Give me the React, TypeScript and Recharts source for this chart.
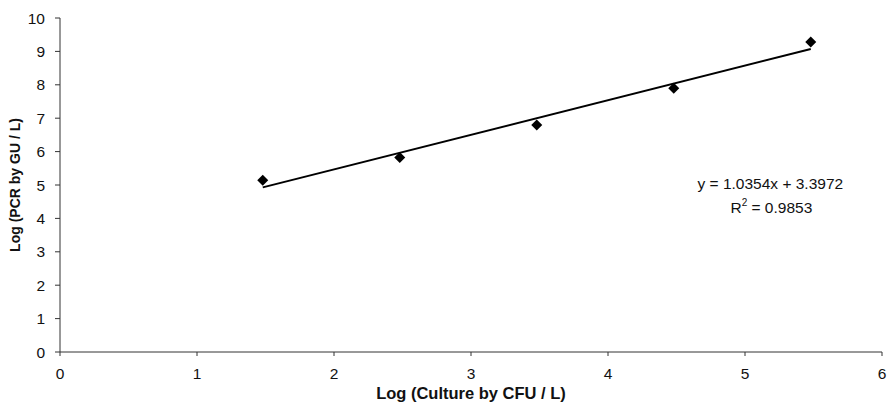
import {
  ComposedChart,
  Scatter,
  XAxis,
  YAxis,
  ReferenceDot,
} from "recharts";

// Log (Culture by CFU / L)
const cultureLog = [1.48, 2.48, 3.48, 4.48, 5.48];
// Log (PCR by GU / L)
const pcrLog = [5.14, 5.82, 6.8, 7.9, 9.28];

const xTicks = [0, 1, 2, 3, 4, 5, 6];
const yTicks = [0, 1, 2, 3, 4, 5, 6, 7, 8, 9, 10];

// Excel-style linear trendline
const slope = 1.0354;
const intercept = 3.3972;
const rSquared = 0.9853;

const points = cultureLog.map((x, i) => ({ x, y: pcrLog[i] }));
const trendX = [cultureLog[0], cultureLog[cultureLog.length - 1]];
const trend = trendX.map((x) => ({ x, y: slope * x + intercept }));

const font = "'Liberation Sans', Arial, sans-serif";

const Diamond = (props: any) => {
  const { cx, cy } = props;
  const r = 5.5;
  return (
    <polygon
      points={`${cx},${cy - r} ${cx + r},${cy} ${cx},${cy + r} ${cx - r},${cy}`}
      fill="#000"
    />
  );
};

const EquationLabel = (props: any) => {
  const { viewBox } = props;
  const x = viewBox.x;
  const y = viewBox.y;
  return (
    <text x={x} y={y} fontFamily={font} fontSize={15.5} fill="#111" textAnchor="middle">
      <tspan x={x} dy={0}>{`y = ${slope}x + ${intercept}`}</tspan>
      <tspan x={x + 1} dy={24}>R</tspan>
      <tspan fontSize={10} dy={-7}>2</tspan>
      <tspan dy={7}>{` = ${rSquared}`}</tspan>
    </text>
  );
};

export default function App() {
  return (
    <div style={{ position: "absolute", left: 0, top: 0, background: "#fff" }}>
      <ComposedChart
        width={887}
        height={402}
        margin={{ top: 18, right: 5, bottom: 0, left: 0 }}
        style={{ fontFamily: font }}
      >
        <XAxis
          type="number"
          dataKey="x"
          domain={[0, 6]}
          ticks={xTicks}
          height={50}
          tickSize={4}
          tickMargin={12}
          stroke="#333"
          tick={{ fill: "#111", fontSize: 15.5 }}
          label={{
            value: "Log (Culture by CFU / L)",
            position: "insideBottom",
            offset: 3,
            style: { fontWeight: "bold", fontSize: 16.5, fill: "#111" },
          }}
        />
        <YAxis
          type="number"
          dataKey="y"
          domain={[0, 10]}
          ticks={yTicks}
          width={60}
          tickSize={5}
          tickMargin={10}
          stroke="#333"
          tick={{ fill: "#111", fontSize: 15.5 }}
          label={{
            value: "Log (PCR by GU / L)",
            angle: -90,
            position: "insideLeft",
            offset: 15,
            style: { fontWeight: "bold", fontSize: 14, fill: "#111", textAnchor: "middle" },
          }}
        />
        <Scatter
          data={trend}
          line={{ stroke: "#000", strokeWidth: 2 }}
          shape={() => null}
          isAnimationActive={false}
        />
        <Scatter data={points} shape={Diamond} isAnimationActive={false} />
        <ReferenceDot
          x={5.185}
          y={4.89}
          r={0}
          fill="none"
          stroke="none"
          label={<EquationLabel />}
        />
      </ComposedChart>
    </div>
  );
}
